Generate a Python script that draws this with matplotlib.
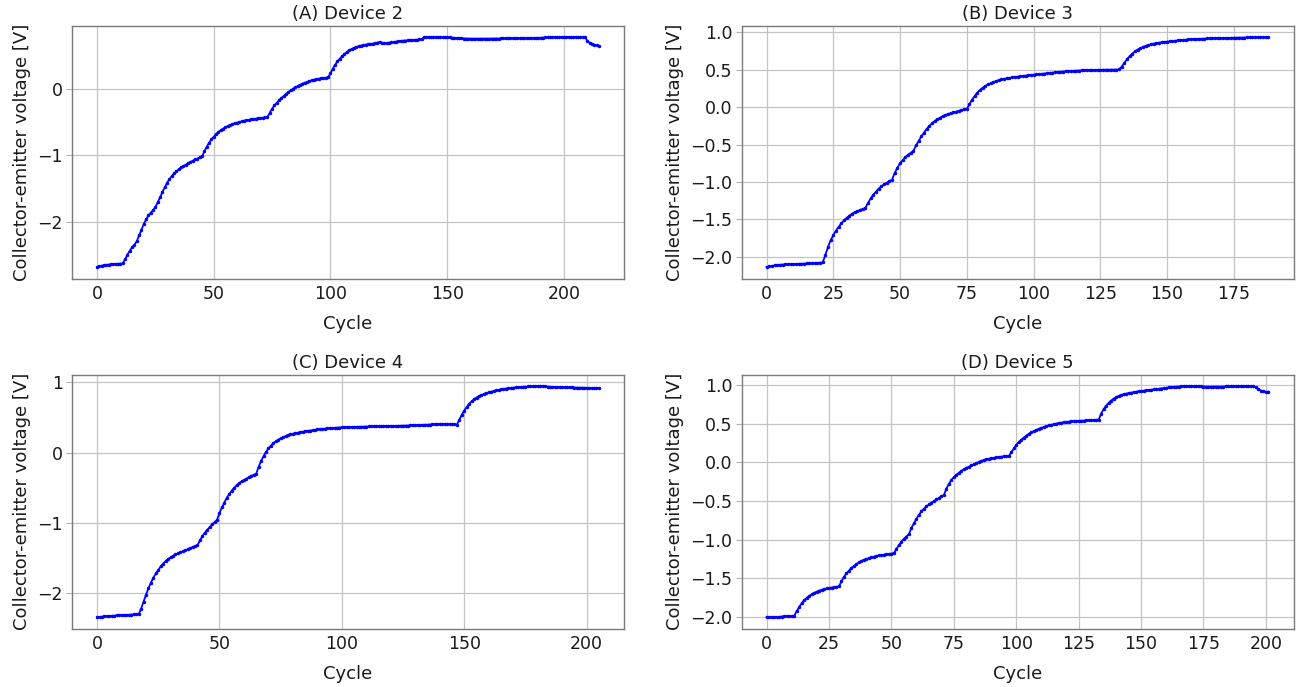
import numpy as np
import matplotlib
matplotlib.use("Agg")
import matplotlib.pyplot as plt

titles = ["(A) Device 2", "(B) Device 3", "(C) Device 4", "(D) Device 5"]
xlabel = "Cycle"
ylabel = "Collector-emitter voltage [V]"

device2 = [
    -2.675, -2.665, -2.655, -2.648, -2.642, -2.638, -2.634, -2.631, -2.628, -2.626,
    -2.625, -2.620, -2.56, -2.49, -2.43, -2.38, -2.34, -2.29, -2.20, -2.12,
    -2.03, -1.96, -1.90, -1.86, -1.82, -1.78, -1.70, -1.63, -1.55, -1.48,
    -1.41, -1.36, -1.31, -1.27, -1.24, -1.21, -1.18, -1.16, -1.14, -1.12,
    -1.10, -1.08, -1.06, -1.05, -1.03, -1.01, -0.94, -0.87, -0.81, -0.76,
    -0.72, -0.68, -0.65, -0.62, -0.60, -0.58, -0.56, -0.545, -0.53, -0.52,
    -0.51, -0.50, -0.49, -0.48, -0.475, -0.47, -0.46, -0.455, -0.45, -0.445,
    -0.44, -0.435, -0.43, -0.425, -0.36, -0.30, -0.25, -0.21, -0.17, -0.14,
    -0.11, -0.08, -0.05, -0.025, 0.0, 0.02, 0.04, 0.06, 0.075, 0.09,
    0.10, 0.115, 0.125, 0.135, 0.145, 0.15, 0.155, 0.16, 0.165, 0.17,
    0.23, 0.30, 0.36, 0.41, 0.45, 0.49, 0.52, 0.55, 0.575, 0.595,
    0.61, 0.625, 0.635, 0.645, 0.655, 0.66, 0.665, 0.67, 0.675, 0.68,
    0.69, 0.70, 0.69, 0.68, 0.685, 0.69, 0.695, 0.70, 0.705, 0.71,
    0.715, 0.72, 0.722, 0.725, 0.728, 0.73, 0.732, 0.735, 0.738, 0.74,
    0.77, 0.775, 0.775, 0.775, 0.774, 0.774, 0.773, 0.772, 0.772, 0.771,
    0.77, 0.768, 0.765, 0.762, 0.76, 0.757, 0.755, 0.752, 0.752, 0.751,
    0.751, 0.75, 0.75, 0.75, 0.75, 0.75, 0.75, 0.75, 0.751, 0.751,
    0.752, 0.752, 0.752, 0.753, 0.753, 0.753, 0.754, 0.754, 0.755, 0.755,
    0.756, 0.756, 0.757, 0.757, 0.758, 0.758, 0.759, 0.76, 0.761, 0.762,
    0.764, 0.766, 0.768, 0.77, 0.772, 0.773, 0.774, 0.775, 0.775, 0.775,
    0.775, 0.775, 0.775, 0.775, 0.775, 0.775, 0.775, 0.775, 0.774, 0.773,
    0.72, 0.69, 0.675, 0.66, 0.65, 0.64,
]

device3 = [
    -2.137, -2.13, -2.122, -2.116, -2.111, -2.107, -2.104, -2.101, -2.099, -2.098,
    -2.097, -2.096, -2.095, -2.094, -2.092, -2.09, -2.088, -2.086, -2.084, -2.082,
    -2.079, -2.075, -1.98, -1.87, -1.78, -1.71, -1.65, -1.60, -1.555, -1.515,
    -1.48, -1.45, -1.425, -1.405, -1.39, -1.375, -1.36, -1.35, -1.28, -1.22,
    -1.17, -1.13, -1.09, -1.06, -1.03, -1.01, -0.99, -0.97, -0.88, -0.81,
    -0.75, -0.71, -0.67, -0.635, -0.61, -0.585, -0.51, -0.45, -0.39, -0.34,
    -0.29, -0.25, -0.215, -0.185, -0.16, -0.14, -0.12, -0.105, -0.09, -0.08,
    -0.07, -0.06, -0.05, -0.04, -0.03, -0.025, 0.04, 0.10, 0.15, 0.195,
    0.23, 0.26, 0.285, 0.305, 0.32, 0.335, 0.35, 0.36, 0.37, 0.378,
    0.385, 0.392, 0.398, 0.403, 0.408, 0.413, 0.418, 0.422, 0.426, 0.43,
    0.434, 0.438, 0.442, 0.446, 0.45, 0.454, 0.458, 0.462, 0.466, 0.47,
    0.473, 0.476, 0.479, 0.482, 0.484, 0.486, 0.488, 0.49, 0.492, 0.494,
    0.495, 0.496, 0.497, 0.498, 0.499, 0.5, 0.5, 0.501, 0.501, 0.502,
    0.502, 0.503, 0.504, 0.54, 0.59, 0.64, 0.68, 0.715, 0.745, 0.77,
    0.79, 0.805, 0.82, 0.83, 0.84, 0.85, 0.855, 0.862, 0.868, 0.872,
    0.877, 0.881, 0.885, 0.889, 0.893, 0.896, 0.899, 0.902, 0.905, 0.907,
    0.909, 0.911, 0.913, 0.915, 0.917, 0.918, 0.92, 0.921, 0.922, 0.923,
    0.924, 0.925, 0.926, 0.927, 0.928, 0.929, 0.929, 0.93, 0.93, 0.931,
    0.932, 0.932, 0.933, 0.934, 0.935, 0.936, 0.936, 0.937, 0.938,
]

device4 = [
    -2.346, -2.34, -2.335, -2.331, -2.328, -2.326, -2.323, -2.32, -2.318, -2.316,
    -2.314, -2.312, -2.31, -2.308, -2.306, -2.304, -2.302, -2.30, -2.22, -2.12,
    -2.02, -1.93, -1.85, -1.78, -1.72, -1.67, -1.62, -1.58, -1.545, -1.515,
    -1.49, -1.47, -1.45, -1.435, -1.42, -1.405, -1.39, -1.375, -1.36, -1.345,
    -1.33, -1.32, -1.25, -1.19, -1.14, -1.10, -1.06, -1.02, -0.99, -0.955,
    -0.86, -0.78, -0.71, -0.64, -0.59, -0.54, -0.50, -0.465, -0.435, -0.41,
    -0.39, -0.37, -0.35, -0.33, -0.315, -0.30, -0.20, -0.12, -0.05, 0.01,
    0.06, 0.10, 0.135, 0.16, 0.185, 0.205, 0.22, 0.235, 0.25, 0.26,
    0.27, 0.278, 0.285, 0.292, 0.299, 0.305, 0.31, 0.315, 0.32, 0.325,
    0.33, 0.334, 0.338, 0.342, 0.345, 0.348, 0.351, 0.354, 0.356, 0.358,
    0.36, 0.362, 0.363, 0.365, 0.366, 0.367, 0.368, 0.369, 0.37, 0.371,
    0.372, 0.373, 0.374, 0.375, 0.375, 0.376, 0.377, 0.377, 0.378, 0.378,
    0.379, 0.38, 0.38, 0.381, 0.382, 0.383, 0.384, 0.386, 0.388, 0.39,
    0.392, 0.394, 0.395, 0.396, 0.397, 0.398, 0.40, 0.403, 0.406, 0.408,
    0.41, 0.41, 0.409, 0.408, 0.406, 0.404, 0.402, 0.40, 0.47, 0.54,
    0.60, 0.65, 0.695, 0.73, 0.76, 0.785, 0.805, 0.82, 0.835, 0.848,
    0.858, 0.868, 0.877, 0.885, 0.893, 0.90, 0.907, 0.913, 0.918, 0.922,
    0.926, 0.93, 0.933, 0.936, 0.939, 0.941, 0.943, 0.945, 0.947, 0.948,
    0.948, 0.947, 0.945, 0.943, 0.941, 0.939, 0.937, 0.935, 0.934, 0.933,
    0.932, 0.931, 0.93, 0.929, 0.928, 0.927, 0.926, 0.925, 0.924, 0.923,
    0.923, 0.922, 0.922, 0.921, 0.921, 0.92,
]

device5 = [
    -2.0, -2.003, -2.005, -2.007, -2.005, -2.0, -1.995, -1.992, -1.99, -1.99,
    -1.99, -1.99, -1.93, -1.875, -1.826, -1.785, -1.755, -1.73, -1.71, -1.69,
    -1.675, -1.66, -1.65, -1.64, -1.632, -1.625, -1.62, -1.615, -1.61, -1.605,
    -1.54, -1.48, -1.437, -1.40, -1.365, -1.34, -1.315, -1.295, -1.275, -1.26,
    -1.25, -1.24, -1.23, -1.22, -1.21, -1.205, -1.20, -1.195, -1.19, -1.185,
    -1.18, -1.175, -1.12, -1.07, -1.027, -0.99, -0.96, -0.93, -0.85, -0.79,
    -0.73, -0.68, -0.635, -0.60, -0.57, -0.545, -0.522, -0.50, -0.48, -0.46,
    -0.44, -0.425, -0.34, -0.28, -0.23, -0.19, -0.16, -0.135, -0.11, -0.09,
    -0.07, -0.056, -0.04, -0.025, -0.01, 0.005, 0.02, 0.03, 0.04, 0.048,
    0.055, 0.06, 0.065, 0.07, 0.074, 0.078, 0.08, 0.082, 0.13, 0.18,
    0.225, 0.265, 0.295, 0.32, 0.345, 0.37, 0.39, 0.405, 0.42, 0.435,
    0.447, 0.458, 0.468, 0.478, 0.487, 0.495, 0.502, 0.508, 0.514, 0.519,
    0.524, 0.528, 0.531, 0.534, 0.536, 0.538, 0.54, 0.542, 0.544, 0.546,
    0.548, 0.55, 0.552, 0.553, 0.63, 0.69, 0.735, 0.77, 0.80, 0.825,
    0.845, 0.86, 0.872, 0.882, 0.89, 0.897, 0.903, 0.909, 0.915, 0.92,
    0.924, 0.928, 0.932, 0.936, 0.94, 0.944, 0.948, 0.952, 0.956, 0.96,
    0.965, 0.97, 0.975, 0.978, 0.98, 0.982, 0.984, 0.986, 0.988, 0.988,
    0.987, 0.986, 0.985, 0.984, 0.983, 0.982, 0.982, 0.981, 0.981, 0.98,
    0.98, 0.98, 0.981, 0.982, 0.983, 0.984, 0.985, 0.986, 0.987, 0.988,
    0.988, 0.988, 0.988, 0.988, 0.988, 0.985, 0.97, 0.945, 0.93, 0.92,
    0.915, 0.915,
]

series = [device2, device3, device4, device5]

W, H = 1304, 687
fig = plt.figure(figsize=(W / 100, H / 100), dpi=100)

# axes boxes in pixels: left, right, top, bottom
boxes = [
    (72, 624, 25.5, 278.5),
    (741.5, 1293.5, 25.5, 278.5),
    (72, 624, 374.5, 629),
    (741.5, 1293.5, 374.5, 629),
]

for vals, title, (l, r, t, b) in zip(series, titles, boxes):
    ax = fig.add_axes([l / W, 1 - b / H, (r - l) / W, (b - t) / H])
    x = np.arange(len(vals))
    ax.plot(x, vals, color="#0000ff", linewidth=1.3, marker=".", markersize=3.0)
    ax.grid(True, color="#c4c4c4", linewidth=0.9)
    ax.set_axisbelow(True)
    for sp in ax.spines.values():
        sp.set_color("#7a7a7a")
        sp.set_linewidth(1.0)
    ax.tick_params(axis="x", length=0, pad=4.5, labelsize=12.5, colors="#1a1a1a")
    ax.tick_params(axis="y", length=4, pad=2.5, labelsize=12.5, color="#b0b0b0",
                   labelcolor="#1a1a1a")
    ax.set_title(title, fontsize=13, pad=5, color="#1a1a1a")
    ax.set_xlabel(xlabel, fontsize=13, labelpad=8.5, color="#1a1a1a")
    ax.set_ylabel(ylabel, fontsize=13, labelpad=5, color="#1a1a1a")

fig.savefig("out.png", dpi=100)
